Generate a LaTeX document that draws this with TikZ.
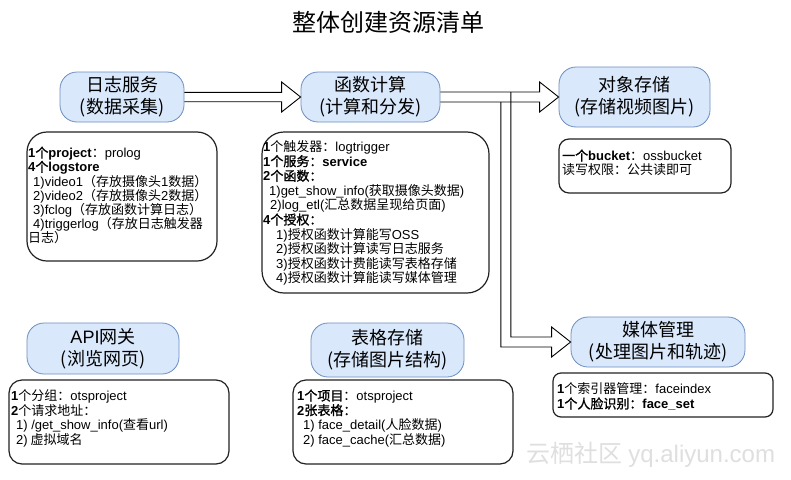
\documentclass[tikz,border=0pt]{standalone}
\usepackage{fontspec}
\setmainfont{Noto Sans CJK SC}[BoldFont={Noto Sans CJK SC}, BoldFeatures={FakeBold=1.3}]
\newfontfamily\lafont{Liberation Sans}
\newcommand\la[1]{{\lafont #1}}
\usetikzlibrary{calc}
\definecolor{bluefill}{HTML}{DAE8FC}
\definecolor{blueline}{HTML}{6C8EBF}
\definecolor{boxline}{HTML}{222222}
\begin{document}
\begin{tikzpicture}[x=1pt,y=-1pt,
  bluebox/.style={draw=blueline, fill=bluefill, line width=0.8pt, rounded corners=17pt, align=center, font=\fontsize{18}{22}\selectfont, inner sep=0pt},
  textbox/.style={draw=boxline, line width=1.2pt, rounded corners=#1, inner sep=0pt},
  textbox/.default=12pt,
  ln/.style={anchor=base west, inner sep=0pt, font=\fontsize{13}{14}\selectfont},
  blockarrow/.style={draw=black, line width=0.9pt, line join=miter}]
\fill[white] (0,0) rectangle (791,479);
\useasboundingbox (0,0) rectangle (791,479);

% title
\node[inner sep=0pt, font=\fontsize{24}{28}\selectfont] (title) at (388,22) {整体创建资源清单};

% blue boxes
\node[bluebox, minimum width=124pt, minimum height=50pt] (log) at (122,97) {日志服务\\(数据采集)};
\node[bluebox, minimum width=139pt, minimum height=50pt] (func) at (370.5,97) {函数计算\\(计算和分发)};
\node[bluebox, minimum width=151pt, minimum height=60pt] (oss) at (634.5,97) {对象存储\\(存储视频图片)};
\node[bluebox, minimum width=152pt, minimum height=51pt] (api) at (103,348.5) {\la{API}网关\\(浏览网页)};
\node[bluebox, minimum width=153pt, minimum height=54pt] (ots) at (387.5,350) {表格存储\\(存储图片结构)};
\node[bluebox, minimum width=174pt, minimum height=50pt] (media) at (658,342) {媒体管理\\(处理图片和轨迹)};

% text boxes
\node[textbox=20pt, minimum width=190pt, minimum height=129pt] (tb1) at (122,196.5) {};
\node[textbox=22pt, minimum width=227pt, minimum height=161pt] (tb2) at (375.5,212.5) {};
\node[textbox=10pt, minimum width=172pt, minimum height=54pt] (tb3) at (645,166) {};
\node[textbox=13pt, minimum width=220pt, minimum height=84pt] (tb4) at (119,422) {};
\node[textbox=13pt, minimum width=220pt, minimum height=84pt] (tb5) at (403,422) {};
\node[textbox=8pt, minimum width=220pt, minimum height=44pt] (tb6) at (663,395) {};

% text box 1
\node[ln] (t1a) at (28,157.6) {\textbf{\la{1}个\la{project}}：\la{prolog}};
\node[ln] (t1b) at (28,171.8) {\textbf{\la{4}个\la{logstore}}};
\node[ln] (t1c) at (33,186) {\la{1)video1}（存放摄像头\la{1}数据）};
\node[ln] (t1d) at (33,200.2) {\la{2)video2}（存放摄像头\la{2}数据）};
\node[ln] (t1e) at (33,214.4) {\la{3)fclog}（存放函数计算日志）};
\node[ln] (t1f) at (33,228.6) {\la{4)triggerlog}（存放日志触发器};
\node[ln] (t1g) at (28,242.8) {日志）};

% text box 2
\node[ln] (t2a) at (263,151.5) {\textbf{\la{1}}个触发器：\la{logtrigger}};
\node[ln] (t2b) at (263,166.1) {\textbf{\la{1}个服务：\la{service}}};
\node[ln] (t2c) at (263,180.7) {\textbf{\la{2}个函数：}};
\node[ln] (t2d) at (269,195.3) {\la{1)get\_show\_info(}获取摄像头数据\la{)}};
\node[ln] (t2e) at (270,209.9) {\la{2)log\_etl(}汇总数据呈现给页面\la{)}};
\node[ln] (t2f) at (263,224.5) {\textbf{\la{4}个授权：}};
\node[ln] (t2g) at (276,239.1) {\la{1)}授权函数计算能写\la{OSS}};
\node[ln] (t2h) at (276,253.7) {\la{2)}授权函数计算读写日志服务};
\node[ln] (t2i) at (276,268.3) {\la{3)}授权函数计费能读写表格存储};
\node[ln] (t2j) at (276,282.9) {\la{4)}授权函数计算能读写媒体管理};

% text box 3
\node[ln] (t3a) at (562,160.5) {\textbf{一个\la{bucket}}：\la{ossbucket}};
\node[ln] (t3b) at (562,174.5) {读写权限：公共读即可};

% text box 4
\node[ln] (t4a) at (11,400.5) {\textbf{\la{1}}个分组：\la{otsproject}};
\node[ln] (t4b) at (11,415.1) {\textbf{\la{2}}个请求地址：};
\node[ln] (t4c) at (16,429.7) {\la{1) /get\_show\_info(}查看\la{url)}};
\node[ln] (t4d) at (16,444.3) {\la{2)} 虚拟域名};

% text box 5
\node[ln] (t5a) at (297,400.5) {\textbf{\la{1}个项目}：\la{otsproject}};
\node[ln] (t5b) at (297,415.1) {\textbf{\la{2}张表格：}};
\node[ln] (t5c) at (303,429.7) {\la{1) face\_detail(}人脸数据\la{)}};
\node[ln] (t5d) at (303,444.3) {\la{2) face\_cache(}汇总数据\la{)}};

% text box 6
\node[ln] (t6a) at (557,393.5) {\textbf{\la{1}}个索引器管理：\la{faceindex}};
\node[ln] (t6b) at (557,408.5) {\textbf{\la{1}个人脸识别：\la{face\_set}}};

% watermark
\node[inner sep=0pt, text=gray!25, font=\fontsize{24}{28}\selectfont] (wm) at (651,455) {云栖社区 \la{yq.aliyun.com}};

% block arrow log -> func
\draw[blockarrow] ($(log.east)+(0,-4.7)$) -- ($(func.west)+(-19,-4.7)$) -- ($(func.west)+(-19,-15)$) -- (func.west)
  -- ($(func.west)+(-19,15)$) -- ($(func.west)+(-19,4.7)$) -- ($(log.east)+(0,4.7)$);

% block arrow func -> oss
\draw[blockarrow] ($(func.east)+(0,-5)$) -- ($(oss.west)+(-19,-5)$) -- ($(oss.west)+(-19,-15)$) -- (oss.west)
  -- ($(oss.west)+(-19,15)$) -- ($(oss.west)+(-19,5)$) -- ($(func.east)+(0,5)$);

% branch arrow func -> media
\coordinate (bi) at ($(func.east)+(70.5,0)$);
\coordinate (bo) at ($(func.east)+(60.5,0)$);
\coordinate (hb) at ($(media.west)+(-19,0)$);
\draw[blockarrow] ($(bi)+(0,-5)$) -- ($(bi |- media.west)+(0,-5)$) -- ($(hb)+(0,-5)$) -- ($(hb)+(0,-15)$) -- (media.west)
  -- ($(hb)+(0,15)$) -- ($(hb)+(0,5)$) -- ($(bo |- media.west)+(0,5)$) -- ($(bo)+(0,5)$);
\end{tikzpicture}
\end{document}
